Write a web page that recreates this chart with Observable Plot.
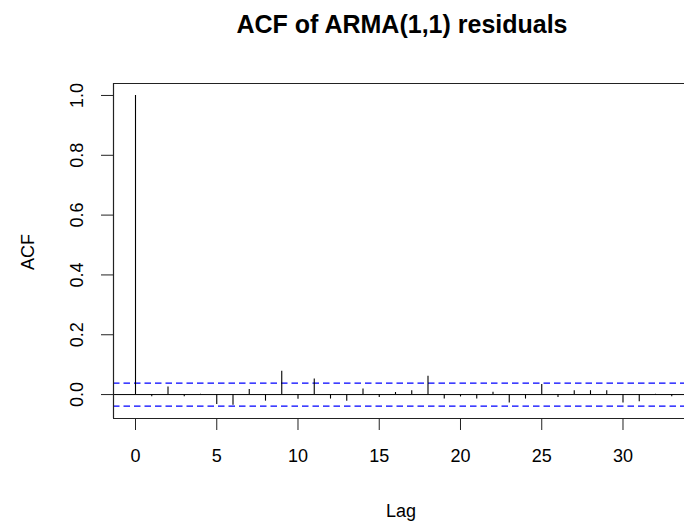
<!DOCTYPE html>
<html>
<head>
<meta charset="utf-8">
<script src="https://cdn.jsdelivr.net/npm/d3@7"></script>
<script src="https://cdn.jsdelivr.net/npm/@observablehq/plot@0.6"></script>
<style>
  html, body { margin: 0; padding: 0; background: #fff; }
  #title {
    box-sizing: border-box;
    width: 684px; height: 50px;
    padding-left: 120px; padding-top: 12px;
    text-align: center;
    font-family: "Liberation Sans", Arial, sans-serif;
    font-weight: bold; font-size: 25px; line-height: 25px;
    color: #000;
  }
</style>
</head>
<body>
<div id="chart"></div>
<script>
const titleText = "ACF of ARMA(1,1) residuals";
const xLabel = "Lag";
const yLabel = "ACF";
const lags = [0,1,2,3,4,5,6,7,8,9,10,11,12,13,14,15,16,17,18,19,20,21,22,23,24,25,26,27,28,29,30,31,32,33];
const acfValues = [1, -0.007, 0.025, -0.007, 0.001, -0.033, -0.036, 0.017, -0.022, 0.078, -0.016, 0.052, -0.015, -0.022, 0.019, -0.010, 0.007, 0.013, 0.061, -0.015, -0.008, -0.015, 0.008, -0.028, -0.015, 0.034, -0.010, 0.013, 0.013, 0.013, -0.028, -0.024, 0.001, -0.007];
const ciBound = 0.0385;
const xTicks = [0, 5, 10, 15, 20, 25, 30];
const yTicks = [0, 0.2, 0.4, 0.6, 0.8, 1.0];

const data = lags.map((lag, i) => ({lag, acf: acfValues[i]}));
const xDomain = [-1.354, 33.785];
const yDomain = [-0.080, 1.040];
const fmt = d3.format(".1f");

const title = document.createElement("div");
title.id = "title";
title.textContent = titleText;

const plot = Plot.plot({
  width: 684,
  height: 471,
  marginLeft: 113,
  marginRight: 0,
  marginTop: 33,
  marginBottom: 103,
  style: {background: "#fff", color: "#000", fontFamily: "'Liberation Sans', Arial, sans-serif", overflow: "visible"},
  x: {domain: xDomain},
  y: {domain: yDomain},
  marks: [
    Plot.ruleY([ciBound, -ciBound], {stroke: "#0000ff", strokeWidth: 1.3, strokeDasharray: "6.5,4"}),
    Plot.ruleY([0], {stroke: "#000", strokeWidth: 1}),
    Plot.ruleX(data, {x: "lag", y1: 0, y2: "acf", stroke: "#000", strokeWidth: 1.1}),
    // box (left, top, bottom)
    Plot.ruleX([xDomain[0]], {stroke: "#222", strokeWidth: 1.2}),
    Plot.ruleY([yDomain[0], yDomain[1]], {stroke: "#222", strokeWidth: 1.2}),
    Plot.axisX({ticks: xTicks, tickSize: 12, tickPadding: 19, fontSize: 18, label: null, tickFormat: d => String(d), stroke: "#222"}),
    Plot.axisY({ticks: yTicks, tickSize: 12, tickFormat: () => "", label: null, stroke: "#222"}),
    Plot.text(yTicks, {y: d => d, text: d => fmt(d), frameAnchor: "left", dx: -31, rotate: -90, lineAnchor: "bottom", textAnchor: "middle", fontSize: 18, fill: "#000"}),
    Plot.text([xLabel], {text: d => d, frameAnchor: "bottom", dx: 2, dy: 98, lineAnchor: "bottom", textAnchor: "middle", fontSize: 18, fill: "#000"}),
    Plot.text([yLabel], {text: d => d, frameAnchor: "left", dx: -80, dy: 1, rotate: -90, lineAnchor: "bottom", textAnchor: "middle", fontSize: 18, fill: "#000"})
  ]
});

const chart = document.getElementById("chart");
chart.appendChild(title);
chart.appendChild(plot);
</script>
</body>
</html>
